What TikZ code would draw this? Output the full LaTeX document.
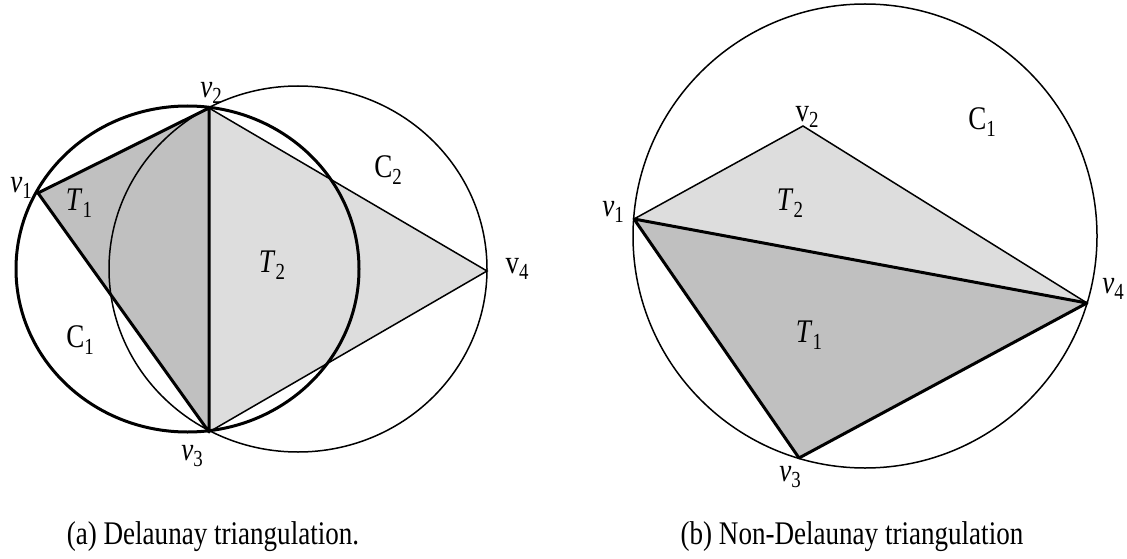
\documentclass[tikz,border=0pt]{standalone}
\usepackage{fontspec}
\setmainfont{Liberation Serif}[FakeStretch=0.82]
\newcommand{\lsub}[1]{\raisebox{-0.2em}{\fontsize{23}{23}\selectfont #1}}
\begin{document}
\begin{tikzpicture}[x=1pt,y=-1pt,
  thinline/.style={line width=1.5pt,line join=miter},
  thickline/.style={line width=3pt,line join=round,line cap=round},
  lbl/.style={inner sep=0pt,font=\fontsize{33}{38}\selectfont}]
\definecolor{tdark}{HTML}{C0C0C0}
\definecolor{tlight}{HTML}{DDDDDD}
\useasboundingbox (0,0) rectangle (1127,559);
% ---------- (a) ----------
\coordinate (a1) at (38,193);
\coordinate (a2) at (209,108);
\coordinate (a3) at (209,432);
\coordinate (a4) at (487,271);
\fill[tlight] (a2) -- (a4) -- (a3) -- cycle;
\fill[tdark] (a1) -- (a2) -- (a3) -- cycle;
\draw[thinline] (298,269) ellipse [x radius=189, y radius=183];
\draw[thickline] (187.5,269) ellipse [x radius=171.5, y radius=163];
\draw[thinline] (a2) -- (a4) -- (a3);
\draw[thickline] (a1) -- (a2) -- (a3) -- cycle;
\node[lbl] (la1) at (21,188) {\textit{v}\lsub{1}};
\node[lbl] (la2) at (211,93) {\textit{v}\lsub{2}};
\node[lbl] (la3) at (192,456) {\textit{v}\lsub{3}};
\node[lbl] (la4) at (517,269) {v\lsub{4}};
\node[lbl] (lt1) at (79,203) {\textit{T}\lsub{1}};
\node[lbl] (lt2) at (272,265) {\textit{T}\lsub{2}};
\node[lbl] (lc1) at (80,340) {C\lsub{1}};
\node[lbl] (lc2) at (388,170) {C\lsub{2}};
\node[lbl] (capa) at (213,537) {(a) Delaunay triangulation.};
% ---------- (b) ----------
\coordinate (b1) at (634,219);
\coordinate (b2) at (803,126);
\coordinate (b3) at (799,458);
\coordinate (b4) at (1087,303);
\fill[tlight] (b1) -- (b2) -- (b4) -- cycle;
\fill[tdark] (b1) -- (b4) -- (b3) -- cycle;
\draw[thinline] (865,236) circle [radius=232];
\draw[thinline] (b1) -- (b2) -- (b4);
\draw[thickline] (b1) -- (b4) -- (b3) -- cycle;
\node[lbl] (lb1) at (613,212) {\textit{v}\lsub{1}};
\node[lbl] (lb2) at (807,117) {v\lsub{2}};
\node[lbl] (lb3) at (790,477) {\textit{v}\lsub{3}};
\node[lbl] (lb4) at (1113,289) {\textit{v}\lsub{4}};
\node[lbl] (lbt1) at (809,335) {\textit{T}\lsub{1}};
\node[lbl] (lbt2) at (790,203) {\textit{T}\lsub{2}};
\node[lbl] (lbc1) at (982,122) {C\lsub{1}};
\node[lbl] (capb) at (852,537) {(b) Non-Delaunay triangulation};
\end{tikzpicture}
\end{document}
